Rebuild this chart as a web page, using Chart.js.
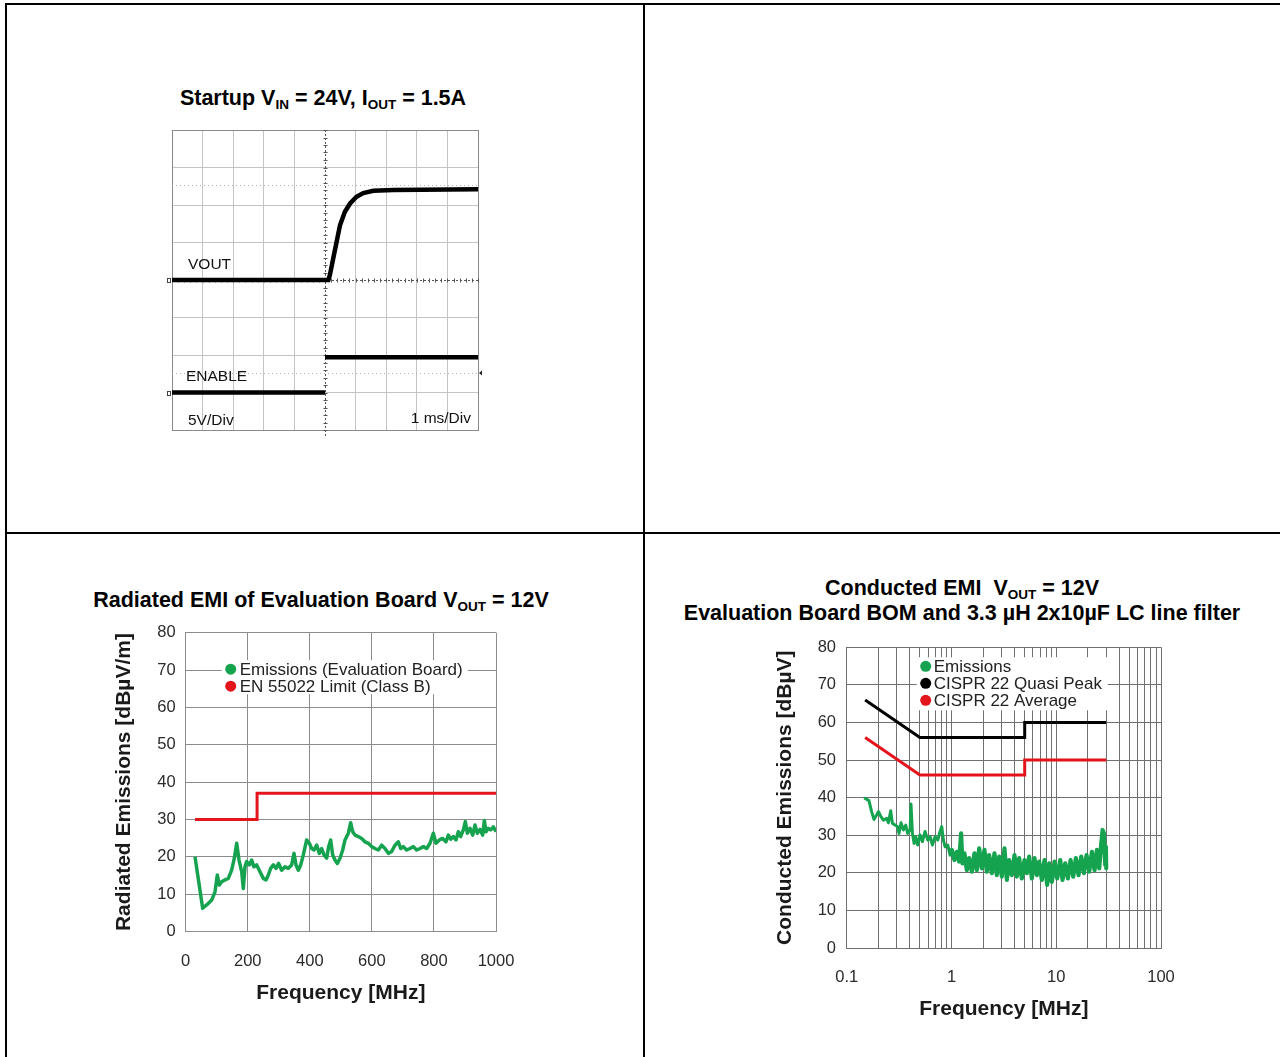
<!DOCTYPE html>
<html>
<head>
<meta charset="utf-8">
<script src="https://cdn.jsdelivr.net/npm/chart.js@4.4.1/dist/chart.umd.min.js"></script>
<style>
body { margin: 0; background: #fff; font-family: 'Liberation Sans', Arial, sans-serif; color: #000; }
#page { position: relative; width: 1280px; height: 1057px; overflow: hidden; }
.rule { position: absolute; background: #000; }
.title { position: absolute; font-weight: bold; font-size: 21.5px; line-height: 25px; white-space: nowrap; text-align: center; transform: translateX(-50%); }
.title sub { font-size: 13.5px; vertical-align: -4px; line-height: 0; }
.lbl { position: absolute; font-size: 15.5px; line-height: 18px; white-space: nowrap; color: #111; }
canvas { position: absolute; }
</style>
</head>
<body>
<div id="page">
  <div class="rule" style="left:5px;top:3px;width:1275px;height:2px"></div>
  <div class="rule" style="left:5px;top:3px;width:2px;height:1054px"></div>
  <div class="rule" style="left:643px;top:3px;width:2px;height:1054px"></div>
  <div class="rule" style="left:5px;top:532px;width:1275px;height:2px"></div>

  <div class="title" style="left:323px;top:86px">Startup V<sub>IN</sub> = 24V, I<sub>OUT</sub> = 1.5A</div>
  <canvas id="scope" width="326" height="324" style="left:162px;top:120px"></canvas>
  <div class="lbl" style="left:188px;top:255px">VOUT</div>
  <div class="lbl" style="left:186px;top:367px">ENABLE</div>
  <div class="lbl" style="left:188px;top:411px">5V/Div</div>
  <div class="lbl" style="right:809px;top:409px">1 ms/Div</div>

  <div class="title" style="left:321px;top:588px">Radiated EMI of Evaluation Board V<sub>OUT</sub> = 12V</div>
  <canvas id="radiated" width="430" height="400" style="left:95px;top:620px"></canvas>

  <div class="title" style="left:962px;top:576px">Conducted EMI&nbsp; V<sub>OUT</sub> = 12V<br>Evaluation Board BOM and 3.3 µH 2x10µF LC line filter</div>
  <canvas id="conducted" width="426" height="405" style="left:760px;top:630px"></canvas>
</div>

<script>
// startup scope capture (time in ms, volts)
const voutTimeMs = [-5, 0.11, 0.16, 0.27, 0.38, 0.49, 0.65, 0.82, 1.03, 1.25, 1.58, 2.23, 5];
const voutVolts = [0, 0, 0.67, 2.9, 5.1, 7.3, 9.1, 10.2, 11.1, 11.6, 11.9, 12.0, 12.1];
const enableTimeMs = [-5, 0, 0, 0, 5];
const enableVolts = [0, 0, null, 4.7, 4.7];
const voutOffset = 0;
const enableOffset = -15;
const cursorLevels = [12.6, -12.4];

// radiated EMI
const radFreqMHz = [30, 54.7, 67.6, 83.7, 94.4, 101.9, 108.4, 115.9, 126.7, 137.4,
  148.1, 156.7, 164.3, 171.8, 180.4, 185.7, 191.1, 196.5, 205.1, 212.6,
  220.1, 228.7, 239.4, 250.2, 258.8, 266.3, 273.8, 282.4, 291.0, 299.6,
  309.3, 320.0, 330.7, 341.5, 349.0, 355.5, 363.0, 370.5, 379.1, 389.8,
  398.4, 406.0, 413.5, 422.1, 430.6, 438.2, 445.7, 454.3, 460.7, 467.2,
  473.6, 481.1, 488.7, 497.3, 505.9, 513.4, 524.1, 531.6, 538.1, 545.6,
  556.3, 567.1, 577.8, 588.6, 599.3, 610.1, 620.8, 631.5, 642.3, 653.0,
  663.8, 674.5, 685.2, 692.8, 701.4, 712.1, 722.8, 733.6, 744.3, 755.1,
  765.8, 776.6, 787.3, 798.0, 806.6, 817.4, 828.1, 838.9, 846.4, 853.9,
  862.5, 871.1, 878.6, 886.1, 894.7, 901.2, 907.6, 916.2, 924.8, 932.3,
  939.8, 948.4, 957.0, 962.4, 967.8, 975.3, 982.8, 991.4, 1000];
const radEmission = [20.0, 6.2, 7.1, 8.4, 10.6, 15.1, 12.4, 13.3, 13.8, 14.2,
  16.4, 19.6, 23.6, 19.1, 16.0, 11.5, 17.3, 18.7, 17.8, 19.1,
  17.3, 17.8, 16.0, 14.2, 13.8, 15.1, 16.9, 17.8, 16.9, 18.2,
  16.4, 17.3, 16.9, 17.8, 20.9, 17.8, 16.4, 17.8, 20.5, 24.5,
  23.6, 22.2, 21.8, 23.1, 20.9, 22.2, 20.5, 19.6, 22.7, 24.5,
  20.5, 19.1, 18.2, 19.6, 21.8, 24.5, 26.3, 29.1, 26.7, 25.8,
  25.4, 24.9, 24.0, 23.6, 22.7, 22.2, 21.8, 23.1, 22.2, 20.9,
  21.4, 23.1, 24.0, 22.2, 22.7, 21.8, 22.2, 22.7, 21.8, 22.2,
  22.7, 22.2, 23.6, 26.3, 23.6, 24.5, 24.9, 24.0, 25.8, 24.7,
  25.4, 24.5, 26.7, 25.4, 27.2, 29.4, 26.3, 27.6, 25.8, 28.5,
  26.3, 27.3, 25.8, 29.7, 26.7, 27.6, 27.2, 28.0, 26.7];
const radLimitFreq = [30, 230, 230, 1000];
const radLimit = [30, 30, 37, 37];

// conducted EMI
const condFreqMHz = [0.150, 0.163, 0.173, 0.182, 0.193, 0.201, 0.213, 0.224, 0.241, 0.250,
  0.263, 0.273, 0.289, 0.305, 0.316, 0.330, 0.348, 0.366, 0.382, 0.403,
  0.411, 0.424, 0.440, 0.456, 0.476, 0.501, 0.528, 0.560, 0.594, 0.625,
  0.658, 0.698, 0.740, 0.779, 0.808, 0.838, 0.870, 0.922, 0.970, 1.007,
  1.067, 1.124, 1.183, 1.236, 1.273, 1.330, 1.401, 1.474, 1.563, 1.657,
  1.745, 1.837, 1.948, 2.065, 2.174, 2.288, 2.427, 2.573, 2.709, 2.852,
  3.024, 3.206, 3.376, 3.553, 3.769, 3.996, 4.207, 4.428, 4.695, 4.978,
  5.240, 5.516, 5.850, 6.203, 6.529, 6.873, 7.289, 7.728, 8.194, 8.565,
  9.083, 9.632, 10.21, 10.91, 11.48, 12.18, 12.92, 13.70, 14.52, 15.40,
  16.33, 17.32, 18.37, 19.47, 20.65, 21.90, 23.22, 24.45, 25.74, 26.90,
  27.70, 28.51, 29.36, 29.80, 30.0];
const condEmission = [39.8, 39.2, 36.3, 34.2, 35.4, 36.3, 34.9, 34.0, 34.5, 33.3,
  36.5, 33.2, 32.7, 32.3, 30.5, 33.3, 31.4, 32.7, 30.5, 31.4,
  38.3, 30.5, 27.8, 29.6, 27.4, 30.1, 28.3, 31.0, 28.7, 29.6,
  27.4, 29.6, 28.7, 31.0, 32.3, 28.7, 26.9, 27.4, 24.7, 26.1,
  23.4, 25.6, 23.0, 30.5, 22.5, 25.2, 20.7, 23.9, 20.3, 25.2,
  20.7, 26.5, 21.2, 26.1, 20.3, 24.7, 19.9, 25.2, 19.4, 24.3,
  19.0, 26.5, 18.1, 23.4, 19.4, 24.7, 19.0, 23.9, 18.5, 23.4,
  19.9, 24.3, 18.5, 23.9, 19.4, 23.0, 18.1, 23.4, 16.8, 22.5,
  17.6, 23.0, 18.5, 23.4, 18.1, 22.5, 18.5, 23.4, 19.0, 23.9,
  19.4, 24.3, 19.9, 24.7, 20.3, 25.6, 20.7, 26.1, 21.2, 27.8,
  31.4, 30.5, 22.1, 26.9, 21.2];
const quasiPeakFreq = [0.15, 0.5, 5, 5, 30];
const quasiPeak = [66, 56, 56, 60, 60];
const averageFreq = [0.15, 0.5, 5, 5, 30];
const average = [56, 46, 46, 50, 50];
const logDecades = [0.1, 1, 10];
const logMantissas = [1, 2, 3, 4, 5, 6, 7, 8, 9];
const logLabels = ['0.1', '1', '10', '100'];

const GREEN = '#16a34f';
const RED = '#e3141c';
const FONT = "'Liberation Sans', Arial, sans-serif";

Chart.defaults.font.family = FONT;
Chart.defaults.animation = false;
Chart.defaults.responsive = false;

function points(xs, ys, offset) {
    return xs.map((x, i) => ({ x: x, y: ys[i] === null ? null : ys[i] + (offset || 0) }));
}

function line(ctx, x1, y1, x2, y2) {
    ctx.beginPath();
    ctx.moveTo(x1, y1);
    ctx.lineTo(x2, y2);
    ctx.stroke();
}

// keep tick labels from pushing the plot area in
function fixWidth(w) {
    return s => { s.width = w; s.paddingTop = 0; s.paddingBottom = 0; };
}
function fixHeight(h) {
    return s => { s.height = h; s.paddingLeft = 0; s.paddingRight = 0; };
}

// legend drawn inside the plot on a white box
const insideLegend = {
    id: 'insideLegend',
    afterDatasetsDraw(chart, args, opts) {
        if (!opts || !opts.width) return;
        const { ctx, chartArea } = chart;
        const x0 = chartArea.left + opts.left;
        const y0 = chartArea.top + opts.top;
        ctx.save();
        ctx.fillStyle = '#fff';
        ctx.fillRect(x0, y0, opts.width, opts.height);
        ctx.font = `17px ${FONT}`;
        ctx.textBaseline = 'middle';
        chart.data.datasets.forEach((ds, i) => {
            const cy = y0 + opts.firstRow + i * opts.rowHeight;
            ctx.fillStyle = ds.borderColor;
            ctx.beginPath();
            ctx.arc(x0 + opts.dotX, cy, 5.5, 0, Math.PI * 2);
            ctx.fill();
            ctx.fillStyle = '#222';
            ctx.fillText(ds.label, x0 + opts.textX, cy + 1);
        });
        ctx.restore();
    }
};

// scope centre lines, cursors and channel markers
const scopeDecor = {
    id: 'scopeDecor',
    beforeDatasetsDraw(chart) {
        const { ctx, chartArea: a, scales: { x, y } } = chart;
        const cx = Math.round(x.getPixelForValue(0)) + 0.5;
        const cy = Math.round(y.getPixelForValue(0)) + 0.5;
        ctx.save();
        ctx.lineWidth = 1;
        ctx.strokeStyle = '#555';
        ctx.setLineDash([2, 2]);
        line(ctx, cx, a.top, cx, a.bottom + 7);
        line(ctx, a.left, cy, a.right, cy);
        ctx.setLineDash([]);
        for (let t = -50; t <= 50; t += 2) {
            const px = Math.round(x.getPixelForValue(t / 10)) + 0.5;
            line(ctx, px, cy - 2, px, cy + 2);
        }
        for (let v = -20; v <= 20; v += 1) {
            const py = Math.round(y.getPixelForValue(v)) + 0.5;
            line(ctx, cx - 2, py, cx + 2, py);
        }
        ctx.strokeStyle = '#b5b5b5';
        ctx.setLineDash([1, 3]);
        cursorLevels.forEach(v => {
            const py = Math.round(y.getPixelForValue(v)) + 0.5;
            line(ctx, a.left, py, a.right, py);
        });
        ctx.setLineDash([]);
        ctx.strokeStyle = '#444';
        [voutOffset, enableOffset].forEach(v => {
            const py = Math.round(y.getPixelForValue(v)) + 0.5;
            ctx.strokeRect(a.left - 4.5, py - 2, 3, 4);
        });
        const ty = y.getPixelForValue(cursorLevels[1]);
        ctx.fillStyle = '#222';
        ctx.beginPath();
        ctx.moveTo(a.right + 1, ty);
        ctx.lineTo(a.right + 4, ty - 2.5);
        ctx.lineTo(a.right + 4, ty + 2.5);
        ctx.fill();
        ctx.restore();
    }
};

function scopeGrid(min, max) {
    return ctx => {
        const v = ctx.tick.value;
        if (v === 0) return 'rgba(0,0,0,0)';
        if (v === min || v === max) return '#8a8a8a';
        return '#c4c4c4';
    };
}

new Chart(document.getElementById('scope'), {
    type: 'scatter',
    data: {
        datasets: [
            { label: 'VOUT', data: points(voutTimeMs, voutVolts, voutOffset), showLine: true, borderColor: '#000', borderWidth: 4.5, pointRadius: 0 },
            { label: 'ENABLE', data: points(enableTimeMs, enableVolts, enableOffset), showLine: true, spanGaps: false, borderColor: '#000', borderWidth: 4.5, pointRadius: 0 }
        ]
    },
    plugins: [scopeDecor],
    options: {
        layout: { padding: { left: 10, right: 10, top: 10, bottom: 14 } },
        plugins: { legend: { display: false }, tooltip: { enabled: false } },
        scales: {
            x: {
                type: 'linear', min: -5, max: 5,
                ticks: { display: false, stepSize: 1 },
                grid: { color: scopeGrid(-5, 5), drawTicks: false },
                border: { color: '#8a8a8a' },
                afterFit: fixHeight(0)
            },
            y: {
                min: -20, max: 20,
                ticks: { display: false, stepSize: 5 },
                grid: { color: scopeGrid(-20, 20), drawTicks: false },
                border: { color: '#8a8a8a' },
                afterFit: fixWidth(0)
            }
        }
    }
});

new Chart(document.getElementById('radiated'), {
    type: 'scatter',
    data: {
        datasets: [
            { label: 'Emissions (Evaluation Board)', data: points(radFreqMHz, radEmission), showLine: true, borderColor: GREEN, borderWidth: 3.5, borderJoinStyle: 'round', pointRadius: 0 },
            { label: 'EN 55022 Limit (Class B)', data: points(radLimitFreq, radLimit), showLine: true, borderColor: RED, borderWidth: 3, pointRadius: 0 }
        ]
    },
    plugins: [insideLegend],
    options: {
        layout: { padding: { left: 0, right: 29, top: 12.7, bottom: 0 } },
        plugins: {
            legend: { display: false }, tooltip: { enabled: false },
            insideLegend: { left: 36, top: 27.5, width: 246, height: 34, firstRow: 9, rowHeight: 17, dotX: 9, textX: 18 }
        },
        scales: {
            x: {
                type: 'linear', min: 0, max: 1000,
                ticks: { stepSize: 200, color: '#2a2a2a', font: { size: 16.5 }, padding: 20.5, maxRotation: 0, callback: v => String(v) },
                grid: { color: '#8c8c8c', drawTicks: false },
                border: { color: '#8c8c8c' },
                title: { display: true, text: 'Frequency [MHz]', color: '#1a1a1a', font: { size: 21, weight: 'bold' }, padding: { top: 0, bottom: 14.4 } },
                afterFit: fixHeight(88.6)
            },
            y: {
                min: 0, max: 80,
                ticks: { stepSize: 10, color: '#2a2a2a', font: { size: 16.5 }, padding: 10 },
                grid: { color: '#8c8c8c', drawTicks: false },
                border: { color: '#8c8c8c' },
                title: { display: true, text: 'Radiated Emissions [dBµV/m]', color: '#1a1a1a', font: { size: 21, weight: 'bold' }, padding: { top: 16.4, bottom: 0 } },
                afterFit: fixWidth(90.7)
            }
        }
    }
});

new Chart(document.getElementById('conducted'), {
    type: 'scatter',
    data: {
        datasets: [
            {
                label: 'Emissions', data: points(condFreqMHz, condEmission), showLine: true, borderColor: GREEN,
                borderWidth: 3, borderJoinStyle: 'round', borderCapStyle: 'round', pointRadius: 0,
                segment: { borderWidth: ctx => (ctx.p0.parsed.x >= 1 ? 4.2 : 3) }
            },
            { label: 'CISPR 22 Quasi Peak', data: points(quasiPeakFreq, quasiPeak), showLine: true, borderColor: '#000', borderWidth: 3, pointRadius: 0 },
            { label: 'CISPR 22 Average', data: points(averageFreq, average), showLine: true, borderColor: RED, borderWidth: 3, pointRadius: 0 }
        ]
    },
    plugins: [insideLegend],
    options: {
        layout: { padding: { left: 0, right: 25, top: 17.3, bottom: 0 } },
        plugins: {
            legend: { display: false }, tooltip: { enabled: false },
            insideLegend: { left: 70, top: 10, width: 191, height: 53, firstRow: 9, rowHeight: 17, dotX: 9, textX: 17 }
        },
        scales: {
            x: {
                type: 'logarithmic', min: 0.1, max: 100,
                afterBuildTicks(s) {
                    const ticks = [];
                    logDecades.forEach(d => logMantissas.forEach(m => ticks.push({ value: +(d * m).toPrecision(3) })));
                    ticks.push({ value: 100 });
                    s.ticks = ticks;
                },
                ticks: {
                    autoSkip: false, maxRotation: 0, color: '#2a2a2a', font: { size: 16.5 }, padding: 19.1,
                    callback(v) {
                        const lbl = String(+v.toPrecision(3));
                        return logLabels.includes(lbl) ? lbl : '';
                    }
                },
                grid: { color: '#707070', drawTicks: false },
                border: { color: '#707070' },
                title: { display: true, text: 'Frequency [MHz]', color: '#1a1a1a', font: { size: 21, weight: 'bold' }, padding: { top: 0, bottom: 13.4 } },
                afterFit: fixHeight(87)
            },
            y: {
                min: 0, max: 80,
                ticks: { stepSize: 10, color: '#2a2a2a', font: { size: 16.5 }, padding: 10.7 },
                grid: { color: '#707070', drawTicks: false },
                border: { color: '#707070' },
                title: { display: true, text: 'Conducted Emissions [dBµV]', color: '#1a1a1a', font: { size: 21, weight: 'bold' }, padding: { top: 12.4, bottom: 0 } },
                afterFit: fixWidth(86.7)
            }
        }
    }
});
</script>
</body>
</html>
